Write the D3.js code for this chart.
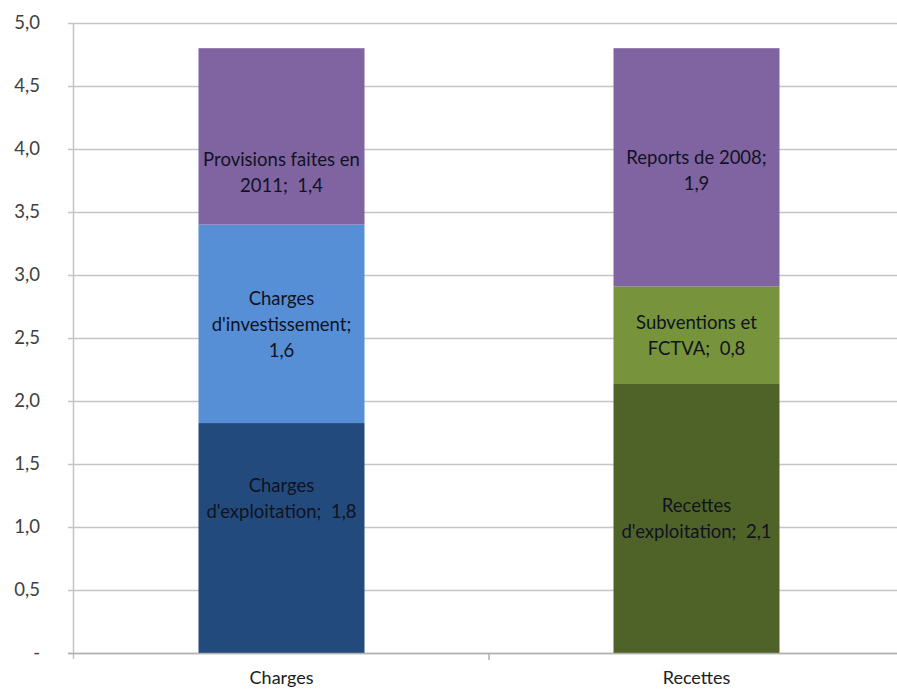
<!DOCTYPE html>
<html><head><meta charset="utf-8">
<script src="https://cdn.jsdelivr.net/npm/d3@7"></script>
<style>body{margin:0;background:#fff}svg{display:block}text{font-family:Lato,"Open Sans",sans-serif}</style>
</head><body><svg id="c" width="897" height="690"></svg>
<script>
const categories = ["Charges", "Recettes"];
const seriesCharges = [
  {name: "Charges d'exploitation", value: 1.825, label: "1,8"},
  {name: "Charges d'investissement", value: 1.575, label: "1,6"},
  {name: "Provisions faites en 2011", value: 1.40, label: "1,4"}
];
const seriesRecettes = [
  {name: "Recettes d'exploitation", value: 2.135, label: "2,1"},
  {name: "Subventions et FCTVA", value: 0.775, label: "0,8"},
  {name: "Reports de 2008", value: 1.89, label: "1,9"}
];
const yTicks = [0, 0.5, 1, 1.5, 2, 2.5, 3, 3.5, 4, 4.5, 5];
const yTickLabels = ["-", "0,5", "1,0", "1,5", "2,0", "2,5", "3,0", "3,5", "4,0", "4,5", "5,0"];

// styling
const colors = {
  "Charges d'exploitation": "#234a7c",
  "Charges d'investissement": "#568fd6",
  "Provisions faites en 2011": "#8064a2",
  "Recettes d'exploitation": "#4f6228",
  "Subventions et FCTVA": "#77933c",
  "Reports de 2008": "#8064a2"
};
const labelLines = {
  "Charges d'exploitation": ["Charges", "d'exploitation;  "],
  "Charges d'investissement": ["Charges", "d'investissement;", ""],
  "Provisions faites en 2011": ["Provisions faites en", "2011;  "],
  "Recettes d'exploitation": ["Recettes", "d'exploitation;  "],
  "Subventions et FCTVA": ["Subventions et", "FCTVA;  "],
  "Reports de 2008": ["Reports de 2008;", ""]
};
const labelShift = {"Charges d'exploitation": -40, "Provisions faites en 2011": 36, "Reports de 2008": 3};

const svg = d3.select("#c");
const mLeft = 74, mRight = 904, mTop = 23, mBottom = 653;
const x = d3.scaleBand().domain(categories).range([mLeft, mRight]).paddingInner(0.6).paddingOuter(0.3);
const y = d3.scaleLinear().domain([0, 5]).range([mBottom, mTop]);

// gridlines
svg.append("g").selectAll("line").data(yTicks).join("line")
  .attr("x1", 68).attr("x2", 897)
  .attr("y1", d => Math.round(y(d)) + 0.5).attr("y2", d => Math.round(y(d)) + 0.5)
  .attr("stroke", "#c4c4c4").attr("stroke-width", 1.5);
// y axis line
svg.append("line").attr("x1", mLeft - 0.5).attr("x2", mLeft - 0.5).attr("y1", mTop).attr("y2", mBottom + 6)
  .attr("stroke", "#c4c4c4").attr("stroke-width", 1.5);
// y tick labels
svg.append("g").selectAll("text").data(yTicks).join("text")
  .attr("x", 40).attr("y", d => y(d) + 6).attr("text-anchor", "end")
  .attr("font-size", 18.5).attr("fill", "#404040")
  .text((d, i) => yTickLabels[i]);

// bars
const data = [
  {cat: categories[0], series: seriesCharges},
  {cat: categories[1], series: seriesRecettes}
];
data.forEach(g => {
  let acc = 0;
  g.series.forEach(s => {
    const y0 = acc, y1 = acc + s.value; acc = y1;
    svg.append("rect").attr("x", x(g.cat)).attr("width", x.bandwidth())
      .attr("y", y(y1)).attr("height", y(y0) - y(y1)).attr("fill", colors[s.name]);
    const lines = labelLines[s.name].slice();
    const n = lines.length;
    const cy = (y(y0) + y(y1)) / 2 + (labelShift[s.name] || 0);
    const lh = 26;
    const t = svg.append("text").attr("text-anchor", "middle").attr("font-size", 18.5)
      .attr("fill", "#10131f").attr("xml:space", "preserve").style("white-space", "pre");
    lines.forEach((ln, i) => {
      let txt = ln;
      if (i === n - 1) txt = ln + s.label;
      t.append("tspan").attr("x", x(g.cat) + x.bandwidth() / 2)
        .attr("y", cy + (i - (n - 1) / 2) * lh + 7).text(txt);
    });
  });
});

// x axis
svg.append("line").attr("x1", mLeft - 6).attr("x2", 897).attr("y1", mBottom + 0.5).attr("y2", mBottom + 0.5)
  .attr("stroke", "#b0b0b0").attr("stroke-width", 1.5);
const midX = (x(categories[0]) + x.bandwidth() + x(categories[1])) / 2;
svg.append("line").attr("x1", midX).attr("x2", midX)
  .attr("y1", mBottom).attr("y2", mBottom + 7).attr("stroke", "#b0b0b0").attr("stroke-width", 1.5);
svg.append("g").selectAll("text").data(categories).join("text")
  .attr("x", d => x(d) + x.bandwidth() / 2).attr("y", 684).attr("text-anchor", "middle")
  .attr("font-size", 18).attr("fill", "#202020").text(d => d);
</script></body></html>
